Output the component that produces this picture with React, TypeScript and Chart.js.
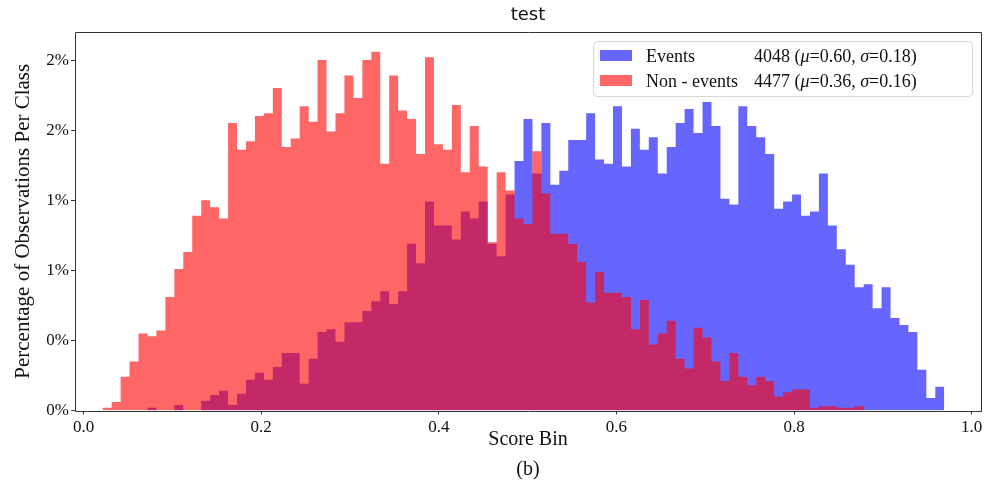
import React, { useEffect, useRef } from "react";
import { Chart, registerables } from "chart.js";

Chart.register(...registerables);

// Histogram bin layout (94 equal bins)
const binStart = 0.0216;
const binWidth = 0.01008;

// Percentage of observations per class in each bin
const eventsPct = [
  0, 0, 0, 0, 0,
  0.02, 0, 0, 0.04, 0, 0, 0.07, 0.11, 0.14, 0.04,
  0.12, 0.22, 0.27, 0.22, 0.31, 0.41, 0.41, 0.19, 0.37, 0.56,
  0.58, 0.49, 0.63, 0.63, 0.71, 0.78, 0.85, 0.76, 0.85, 1.19,
  1.05, 1.49, 1.32, 1.32, 1.22, 1.42, 1.37, 1.49, 1.19, 1.10,
  1.54, 1.78, 2.08, 1.69, 2.05, 1.61, 1.71, 1.93, 1.93, 2.12,
  1.79, 1.76, 2.17, 1.74, 2.01, 1.86, 1.95, 1.69, 1.88, 2.05,
  2.15, 1.98, 2.20, 2.03, 1.51, 1.47, 2.17, 2.03, 1.95, 1.83,
  1.44, 1.49, 1.54, 1.39, 1.42, 1.69, 1.32, 1.15, 1.04, 0.88,
  0.90, 0.73, 0.88, 0.66, 0.61, 0.56, 0.29, 0.09, 0.17,
];

const nonEventsPct = [
  0.02, 0.06, 0.24, 0.35, 0.55, 0.53, 0.57, 0.81, 1.01, 1.13,
  1.39, 1.50, 1.45, 1.37, 2.05, 1.86, 1.92, 2.10, 2.12, 2.30,
  1.88, 1.94, 2.17, 2.06, 2.50, 1.99, 2.12, 2.39, 2.23, 2.50,
  2.56, 1.76, 2.39, 2.14, 2.08, 1.83, 2.52, 1.90, 1.86, 2.18,
  1.70, 2.03, 1.74, 1.20, 1.70, 1.57, 1.37, 1.33, 1.85, 1.55,
  1.26, 1.26, 1.19, 1.06, 0.77, 0.99, 0.84, 0.84, 0.81, 0.58,
  0.79, 0.47, 0.55, 0.64, 0.37, 0.30, 0.59, 0.52, 0.35, 0.21,
  0.41, 0.24, 0.18, 0.24, 0.21, 0.10, 0.13, 0.15, 0.15, 0.02,
  0.03, 0.03, 0.02, 0.02, 0.03,
  0, 0, 0, 0, 0, 0, 0, 0, 0,
];

const yTickLabels = ["0%", "0%", "1%", "1%", "2%", "2%"];
const seriesNames = ["Events", "Non - events"];
const seriesCounts = ["4048", "4477"];
const seriesMu = ["0.60", "0.36"];
const seriesSigma = ["0.18", "0.16"];
const chartTitle = "test";
const xAxisTitle = "Score Bin";
const yAxisTitle = "Percentage of Observations Per Class";
const caption = "(b)";

const BLUE = "rgba(0,0,255,0.6)";
const RED = "rgba(255,0,0,0.6)";
const SERIF = '"Liberation Serif", "Times New Roman", serif';

const binEdges = Array.from({ length: eventsPct.length + 1 }, (_, k) => binStart + k * binWidth);

function toSteps(values: number[]) {
  const pts = values.map((v, k) => ({ x: binEdges[k], y: v }));
  pts.push({ x: binEdges[values.length], y: 0 });
  return pts;
}

const decorPlugin = {
  id: "decor",
  afterDatasetsDraw(chart: any) {
    const { ctx, chartArea } = chart;
    const { left, right, top, bottom } = chartArea;
    ctx.save();
    ctx.strokeStyle = "#333";
    ctx.lineWidth = 1;
    ctx.beginPath();
    ctx.rect(Math.round(left) + 0.5, Math.round(top) + 0.5, Math.round(right - left), Math.round(bottom - top));
    ctx.stroke();
    ctx.restore();
  },
  afterDraw(chart: any) {
    const { ctx, chartArea } = chart;
    const cx = (chartArea.left + chartArea.right) / 2;
    const cy = (chartArea.top + chartArea.bottom) / 2;
    ctx.save();
    ctx.fillStyle = "#111";
    ctx.textAlign = "center";
    ctx.textBaseline = "middle";
    ctx.font = '18px "DejaVu Sans", sans-serif';
    ctx.fillText(chartTitle, cx, 15);
    ctx.font = `20px ${SERIF}`;
    ctx.fillText(xAxisTitle, cx, 440);
    ctx.fillText(caption, cx, 470);
    ctx.save();
    ctx.translate(23, cy);
    ctx.rotate(-Math.PI / 2);
    ctx.font = `21px ${SERIF}`;
    ctx.fillText(yAxisTitle, 0, 0);
    ctx.restore();

    // legend
    const bx = 593.5, by = 41.5, bw = 379, bh = 55, r = 4;
    ctx.beginPath();
    ctx.moveTo(bx + r, by);
    ctx.lineTo(bx + bw - r, by);
    ctx.quadraticCurveTo(bx + bw, by, bx + bw, by + r);
    ctx.lineTo(bx + bw, by + bh - r);
    ctx.quadraticCurveTo(bx + bw, by + bh, bx + bw - r, by + bh);
    ctx.lineTo(bx + r, by + bh);
    ctx.quadraticCurveTo(bx, by + bh, bx, by + bh - r);
    ctx.lineTo(bx, by + r);
    ctx.quadraticCurveTo(bx, by, bx + r, by);
    ctx.closePath();
    ctx.fillStyle = "rgba(255,255,255,0.85)";
    ctx.fill();
    ctx.strokeStyle = "#d6d6d6";
    ctx.lineWidth = 1;
    ctx.stroke();

    const colors = [BLUE, RED];
    const rowsBase = [61.5, 86.5];
    ctx.textAlign = "left";
    ctx.textBaseline = "alphabetic";
    for (let i = 0; i < 2; i++) {
      const yb = rowsBase[i];
      ctx.fillStyle = colors[i];
      ctx.fillRect(600, yb - 11.5, 32, 11);
      ctx.fillStyle = "#111";
      ctx.font = `18px ${SERIF}`;
      ctx.fillText(seriesNames[i], 646, yb);
      const parts: [string, boolean][] = [
        [seriesCounts[i] + " (", false],
        ["\u03bc", true],
        ["=" + seriesMu[i] + ", ", false],
        ["\u03c3", true],
        ["=" + seriesSigma[i] + ")", false],
      ];
      let x = 754;
      for (const [t, it] of parts) {
        ctx.font = `${it ? "italic " : ""}18px ${SERIF}`;
        ctx.fillText(t, x, yb);
        x += ctx.measureText(t).width;
      }
    }
    ctx.restore();
  },
};

export default function App() {
  const ref = useRef<HTMLCanvasElement | null>(null);
  useEffect(() => {
    if (!ref.current) return;
    const chart = new Chart(ref.current, {
      type: "line",
      data: {
        datasets: [
          {
            label: seriesNames[0],
            data: toSteps(eventsPct),
            stepped: true,
            fill: "origin",
            backgroundColor: BLUE,
            borderColor: "rgba(0,0,0,0)",
            borderWidth: 0,
            pointRadius: 0,
            order: 1,
          },
          {
            label: seriesNames[1],
            data: toSteps(nonEventsPct),
            stepped: true,
            fill: "origin",
            backgroundColor: RED,
            borderColor: "rgba(0,0,0,0)",
            borderWidth: 0,
            pointRadius: 0,
            order: 0,
          },
        ],
      },
      options: {
        responsive: false,
        animation: false,
        devicePixelRatio: 1,
        events: [],
        layout: { padding: { top: 32, right: 14, left: 0, bottom: 0 } },
        plugins: {
          legend: { display: false },
          tooltip: { enabled: false },
          title: { display: false },
        },
        scales: {
          x: {
            type: "linear",
            min: -0.0096,
            max: 1.0105,
            afterFit: (s: any) => { s.height = 77.5; },
            grid: { display: true, drawOnChartArea: false, drawTicks: true, tickLength: 4, color: "#333" },
            border: { display: false },
            ticks: {
              stepSize: 0.2,
              includeBounds: false,
              padding: 3,
              color: "#111",
              font: { family: SERIF, size: 17 },
              maxRotation: 0,
              callback: (v: any) => Number(v).toFixed(1),
            },
          },
          y: {
            type: "linear",
            min: 0,
            max: 2.7,
            afterFit: (s: any) => { s.width = 75; },
            grid: { display: true, drawOnChartArea: false, drawTicks: true, tickLength: 4, color: "#333" },
            border: { display: false },
            ticks: {
              stepSize: 0.5,
              includeBounds: false,
              padding: 2,
              color: "#111",
              font: { family: SERIF, size: 17 },
              callback: (_v: any, i: number) => yTickLabels[i],
            },
          },
        },
      },
      plugins: [decorPlugin],
    } as any);
    return () => chart.destroy();
  }, []);
  return (
    <div style={{ position: "absolute", left: 0, top: 0, width: 995, height: 488, background: "#fff" }}>
      <canvas ref={ref} width={995} height={488} style={{ display: "block" }} />
    </div>
  );
}
